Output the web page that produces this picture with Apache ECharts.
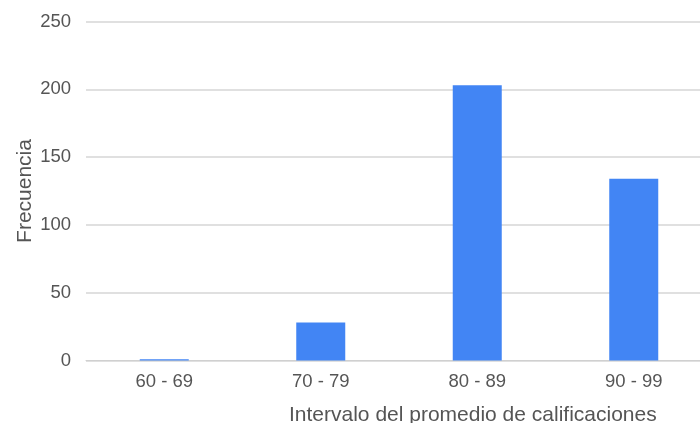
<!DOCTYPE html>
<html>
<head>
<meta charset="utf-8">
<script src="https://cdn.jsdelivr.net/npm/echarts@6/dist/echarts.min.js"></script>
<style>html,body{margin:0;padding:0;background:#fff;overflow:hidden;width:700px;height:423px;}#c{width:712px;height:423px;}</style>
</head>
<body>
<div id="c"></div>
<script>
const categories = ["60 - 69", "70 - 79", "80 - 89", "90 - 99"];
const frecuencia = [1, 28, 203, 134];
const yTicks = [0, 50, 100, 150, 200, 250];
const xTitle = "Intervalo del promedio de calificaciones";
const yTitle = "Frecuencia";

const font = "'Liberation Sans', Arial, sans-serif";
const chart = echarts.init(document.getElementById('c'));
chart.setOption({
  animation: false,
  title: {
    text: xTitle,
    left: 284,
    top: 400,
    textStyle: {fontFamily: font, fontSize: 21, fontWeight: 'normal', color: '#555'}
  },
  grid: {left: 86, right: 0, top: 21.5, bottom: 62.5, containLabel: false},
  xAxis: {
    type: 'category',
    data: categories,
    axisLine: {show: true, lineStyle: {color: '#d0d0d0', width: 1}},
    axisTick: {show: false},
    axisLabel: {fontFamily: font, fontSize: 18.5, color: '#555', margin: 12}
  },
  yAxis: {
    type: 'value',
    min: yTicks[0],
    max: yTicks[yTicks.length - 1],
    interval: 50,
    name: yTitle,
    nameLocation: 'middle',
    nameGap: 50,
    nameMoveOverlap: false,
    nameTextStyle: {fontFamily: font, fontSize: 21, color: '#555'},
    axisLine: {show: false},
    axisTick: {show: false},
    axisLabel: {fontFamily: font, fontSize: 18.5, color: '#555', margin: 15},
    splitLine: {lineStyle: {color: '#d6d6d6', width: 1.5}}
  },
  series: [{
    type: 'bar',
    data: frecuencia,
    barWidth: 49,
    itemStyle: {color: '#4285F4'}
  }]
});
</script>
</body>
</html>
